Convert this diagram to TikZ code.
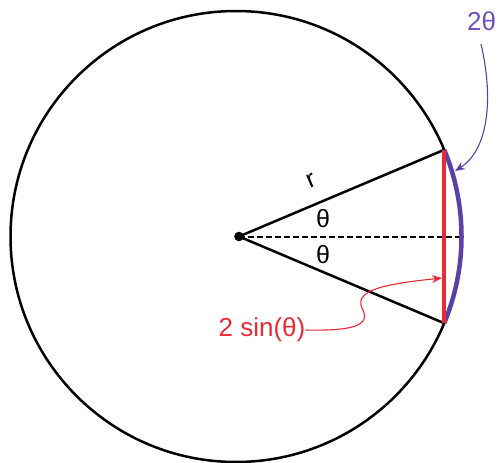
\documentclass[tikz,border=0pt]{standalone}
\usepackage{fontspec}
\setmainfont{Liberation Sans}
\usetikzlibrary{arrows.meta}
\definecolor{myred}{HTML}{EC2A36}
\definecolor{mypurple}{HTML}{5A41A8}
\definecolor{mypurpletext}{HTML}{6C52B8}
\begin{document}
\begin{tikzpicture}[x=1pt,y=-1pt,
  blackline/.style={line width=2.5pt,black},
  lbl/.style={inner sep=0pt,font=\fontsize{25}{28}\selectfont},
  pointer/.style={line width=1.1pt,-{Stealth[length=10pt,width=8pt]}}]
\useasboundingbox (0,0) rectangle (498,463);
\coordinate (C) at (236,236.5);
\coordinate (T) at (444.2,149.8);
\coordinate (B) at (444.2,323.2);
\coordinate (R) at (461.5,236.5);
% circle
\draw[blackline] (C) circle[radius=225.5];
% center dot
\coordinate (O) at (239,236.5);
\fill (O) circle[radius=4.8];
% radii
\draw[blackline] (O) -- (T);
\draw[blackline] (O) -- (B);
% dashed bisector
\draw[line width=2pt,dash pattern=on 6pt off 3pt] (O) -- (R);
% purple arc
\draw[mypurple,line width=4.5pt] (T) arc[start angle=-22.6,end angle=22.6,radius=225.5];
% red chord
\draw[myred,line width=4.5pt] (T) -- (B);
% labels
\node[lbl,rotate=23] (r) at (311,181) {r};
\node[lbl] (th1) at (323,219) {θ};
\node[lbl] (th2) at (323,255) {θ};
\node[lbl,myred,font=\fontsize{26}{28}\selectfont] (sin) at (262,330) {2 sin(θ)};
\node[lbl,mypurpletext,font=\fontsize{26}{28}\selectfont] (two) at (481.5,21) {2θ};
% pointers
\coordinate (redtip) at (442,278);
\coordinate (purtip) at (455,171);
\draw[pointer,myred] (sin.east) .. controls (352,331) and (372,326) .. (362,308)
  .. controls (354,290) and (385,284) .. (redtip);
\draw[pointer,mypurple] (481,44) .. controls (494,100) and (488,150) .. (purtip);
\end{tikzpicture}
\end{document}
